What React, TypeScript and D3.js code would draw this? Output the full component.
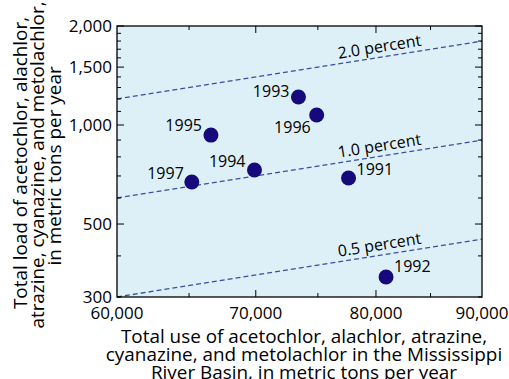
import React from "react";
import * as d3 from "d3";

// Annual pesticide use vs. load delivered, Mississippi River Basin
const years = ["1991", "1992", "1993", "1994", "1995", "1996", "1997"];
const totalUse = [77600, 80900, 73400, 69900, 66600, 74900, 65200];
const totalLoad = [690, 345, 1217, 730, 932, 1073, 671];

// Reference lines: load as a fixed percentage of use
const percents = [0.5, 1.0, 2.0];
const percentLabels = ["0.5 percent", "1.0 percent", "2.0 percent"];

const xTickValues = [60000, 70000, 80000, 90000];
const xTickLabels = ["60,000", "70,000", "80,000", "90,000"];
const yTickValues = [300, 500, 1000, 1500, 2000];
const yTickLabels = ["300", "500", "1,000", "1,500", "2,000"];

// Year label placement around each marker: [dx, dy, anchor]
const labelPlacement: Record<string, [number, number, string]> = {
  "1991": [8, -3, "start"],
  "1992": [8, -5, "start"],
  "1993": [-9, 0, "end"],
  "1994": [-9, -3, "end"],
  "1995": [-9, -4, "end"],
  "1996": [-6, 18, "end"],
  "1997": [-8, -3, "end"],
};

const W = 509;
const H = 379;
const M = { left: 117, right: 482, top: 26, bottom: 297 };
const FONT = "'Open Sans', 'Noto Sans', sans-serif";
const BG = "#def0f7";
const DOT = "#15097b";
const REF = "#3b4fa2";
const INK = "#000";

export default function App() {
  const x = d3.scaleLog().domain([60000, 90000]).range([M.left, M.right]);
  const y = d3.scaleLog().domain([300, 2000]).range([M.bottom, M.top]);

  const xMinor = d3.range(65000, 90000, 5000);
  const yMinor = d3.range(300, 2001, 100);

  const labelX = 381;
  const [u0, u1] = x.domain();

  return (
    <svg
      width={W}
      height={H}
      style={{ position: "absolute", left: 0, top: 0, display: "block" }}
      fontFamily={FONT}
    >
      <rect x={0} y={0} width={W} height={H} fill="#ffffff" />
      <rect
        x={M.left}
        y={M.top}
        width={M.right - M.left}
        height={M.bottom - M.top}
        fill={BG}
      />

      {/* percent-of-use reference lines */}
      {percents.map((p, i) => {
        const k = p / 100;
        const pts = [u0, u1].map((u) => [u, u * k] as [number, number]);
        const path = d3
          .line<[number, number]>()
          .x((d) => x(d[0]))
          .y((d) => y(d[1]))(pts);
        const uAt = x.invert(labelX);
        const py = y(uAt * k);
        const angle =
          (Math.atan2(y(u1 * k) - y(u0 * k), x(u1) - x(u0)) * 180) / Math.PI;
        return (
          <g key={p}>
            <path
              d={path || ""}
              fill="none"
              stroke={REF}
              strokeWidth={1.3}
              strokeDasharray="5,3"
            />
            <text
              transform={`translate(${labelX},${py}) rotate(${angle})`}
              y={-5}
              textAnchor="middle"
              fontSize={16}
              fontWeight={500}
              fill={INK}
            >
              {percentLabels[i]}
            </text>
          </g>
        );
      })}

      {/* observations */}
      {years.map((yr, i) => {
        const cx = x(totalUse[i]);
        const cy = y(totalLoad[i]);
        const [dx, dy, anchor] = labelPlacement[yr];
        return (
          <g key={yr}>
            <circle cx={cx} cy={cy} r={7.5} fill={DOT} />
            <text
              x={cx + dx}
              y={cy + dy}
              textAnchor={anchor as any}
              fontSize={16}
              fontWeight={500}
              fill={INK}
            >
              {yr}
            </text>
          </g>
        );
      })}

      {/* inward ticks on all four sides */}
      {xMinor.map((v) => {
        const len = v % 10000 === 0 ? 7 : 4;
        return (
          <g key={`xt${v}`} stroke="#000" strokeWidth={1}>
            <line x1={x(v)} x2={x(v)} y1={M.bottom} y2={M.bottom - len} />
            <line x1={x(v)} x2={x(v)} y1={M.top} y2={M.top + len} />
          </g>
        );
      })}
      {yMinor.map((v) => {
        const len = v % 500 === 0 ? 7 : 4;
        return (
          <g key={`yt${v}`} stroke="#000" strokeWidth={1}>
            <line x1={M.left} x2={M.left + len} y1={y(v)} y2={y(v)} />
            <line x1={M.right} x2={M.right - len} y1={y(v)} y2={y(v)} />
          </g>
        );
      })}

      <rect
        x={M.left}
        y={M.top}
        width={M.right - M.left}
        height={M.bottom - M.top}
        fill="none"
        stroke="#000"
        strokeWidth={1.3}
      />

      {/* tick labels */}
      {xTickValues.map((v, i) => (
        <text
          key={`xl${v}`}
          x={x(v)}
          y={M.bottom + 22}
          textAnchor="middle"
          fontSize={17}
          fill={INK}
        >
          {xTickLabels[i]}
        </text>
      ))}
      {yTickValues.map((v, i) => (
        <text
          key={`yl${v}`}
          x={M.left - 5}
          y={y(v)}
          dy="0.35em"
          textAnchor="end"
          fontSize={17}
          fill={INK}
        >
          {yTickLabels[i]}
        </text>
      ))}

      {/* axis titles */}
      <g fontSize={18.9} fill={INK} textAnchor="middle">
        <text x={304} y={343}>Total use of acetochlor, alachlor, atrazine,</text>
        <text x={304} y={361}>cyanazine, and metolachlor in the Mississippi</text>
        <text x={304} y={379}>River Basin, in metric tons per year</text>
      </g>
      <g fontSize={18.9} fill={INK} textAnchor="middle">
        <text transform="translate(27,163) rotate(-90)">
          Total load of acetochlor, alachlor,
        </text>
        <text transform="translate(44,165) rotate(-90)">
          atrazine, cyanazine, and metolachlor,
        </text>
        <text transform="translate(61,166) rotate(-90)">
          in metric tons per year
        </text>
      </g>
    </svg>
  );
}
